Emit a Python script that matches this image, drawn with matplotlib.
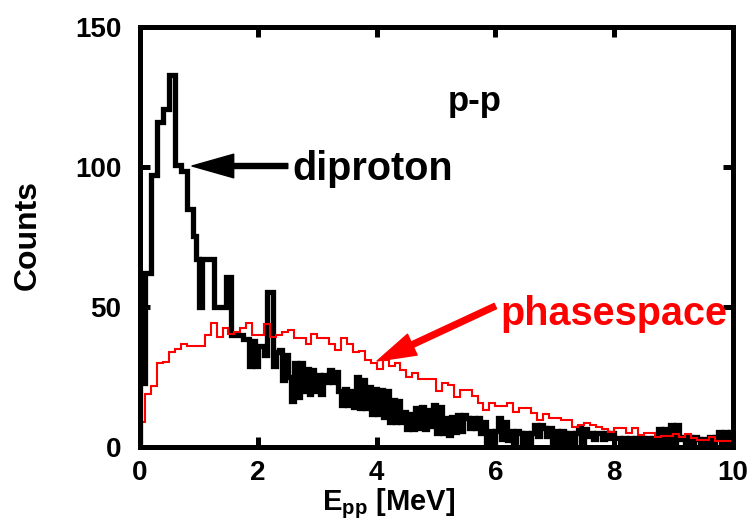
import numpy as np
import matplotlib
matplotlib.use("Agg")
import matplotlib.pyplot as plt

# Measured diproton spectrum, 0.05 MeV bins from 0 to 10 MeV
diproton = [
    23, 23, 62, 62, 97, 97, 116, 116, 120.5, 120.5,
    132.7, 132.7, 100.5, 100.5, 98.5, 98.5, 85, 85, 75.5, 67,
    50, 67, 67, 67, 67, 50, 50, 50, 50, 60.7,
    60.7, 40, 40, 40, 40, 38.5, 38.5, 29, 38, 29,
    36, 36, 33, 55.5, 55.5, 29, 34, 34.7, 24, 33,
    25, 16.5, 30, 18, 30, 20, 28, 19, 27.5, 20,
    26, 19, 26, 23.5, 27.5, 23.5, 27, 20, 15, 21,
    15, 20, 14.5, 25, 14, 24, 14, 21.5, 12, 21,
    12, 20.5, 11, 20, 9, 17, 9, 16.5, 9, 12.5,
    6.5, 12, 6.5, 14, 7, 14.5, 6.5, 13.5, 7.5, 15,
    5, 14.5, 5, 10.5, 4.5, 11, 5.5, 11.5, 6, 11.5,
    10.5, 7, 10.5, 7, 10.4, 5, 9, 1.5, 6, 2,
    6, 10.4, 3, 9, 2.7, 6, 1.5, 6, 5, 1.5,
    5, 1.5, 5, 8, 4, 8, 7, 4, 7, 1.5,
    6, 1.5, 6, 5, 2, 5, 1.5, 5, 7, 2,
    6.5, 4, 5, 3, 5, 5, 3, 5, 3.5, 5,
    3.5, 3.5, 1.5, 3.5, 1.5, 3.5, 1.5, 3.5, 1.5, 3.5,
    1.5, 3.5, 1.5, 3.5, 1.5, 6.5, 2, 6.5, 2, 8,
    2, 8, 3, 3.9, 1.5, 3.9, 1.5, 3.9, 2.9, 1,
    2.9, 1, 3.9, 1.5, 3.9, 5.6, 2, 5.6, 2, 5.6,
]

# Phase-space simulation, 0.1 MeV bins from 0 to 10 MeV
phasespace = [
    9, 19, 22, 30, 30.5, 34, 35, 37, 36, 36,
    36, 40, 44.5, 39.5, 42.5, 40.5, 41, 42.5, 44.5, 40,
    40, 44, 39.5, 40, 41, 42, 39, 39, 37, 40.5,
    39, 39, 37, 34.7, 39, 37, 34, 34.5, 31, 30,
    28, 31, 29, 30, 27.5, 25, 26.5, 24.5, 24.5, 24.5,
    20, 23, 22.3, 18, 20.5, 20.5, 18.5, 16, 13.4, 15.7,
    14.8, 14.8, 15.7, 12.8, 14.2, 14.2, 12.2, 9.8, 11.8, 10.4,
    10.4, 9.8, 9.8, 7.4, 8, 8.8, 8, 7.4, 6.5, 5.5,
    6.8, 6.8, 5, 6.8, 4.5, 5, 5, 3.9, 4.1, 4.1,
    4.8, 3.6, 4.8, 3.3, 2.7, 2.7, 3.9, 2.4, 2.4, 2.4,
]

x_range = (0, 10)
y_range = (0, 150)
x_ticks = [0, 2, 4, 6, 8, 10]
y_ticks = [0, 50, 100, 150]

plt.rcParams["font.family"] = ["Liberation Sans", "DejaVu Sans"]
plt.rcParams["font.weight"] = "bold"
plt.rcParams["mathtext.fontset"] = "custom"
plt.rcParams["mathtext.rm"] = "Liberation Sans:bold"
plt.rcParams["mathtext.bf"] = "Liberation Sans:bold"

fig = plt.figure(figsize=(7.53, 5.24), dpi=100)
ax = fig.add_axes([0.1853, 0.146, 0.7875, 0.8034])

edges_dp = np.linspace(x_range[0], x_range[1], len(diproton) + 1)
edges_ps = np.linspace(x_range[0], x_range[1], len(phasespace) + 1)

ax.stairs(diproton, edges_dp, color="black", linewidth=3.8, zorder=2)
ax.stairs(phasespace, edges_ps, color="#ff0000", linewidth=1.5, zorder=3)

ax.set_xlim(*x_range)
ax.set_ylim(*y_range)
ax.set_xticks(x_ticks)
ax.set_yticks(y_ticks)
ax.set_xticklabels([str(t) for t in x_ticks])
ax.set_yticklabels([str(t) for t in y_ticks])

for s in ax.spines.values():
    s.set_linewidth(3.6)
    s.set_zorder(4)

ax.tick_params(axis="both", which="major", direction="in", length=7.5,
               width=3.6, top=True, right=True, labelsize=20)
ax.tick_params(axis="y", pad=13)
ax.tick_params(axis="x", pad=9)

ax.set_ylabel("Counts", fontsize=23, fontweight="bold")
ax.yaxis.set_label_coords(-0.163, 0.505)
ax.set_xlabel(r"$\mathrm{E}_{\mathrm{pp}}$ [MeV]", fontsize=21,
              fontweight="bold")
ax.xaxis.set_label_coords(0.42, -0.093)

# Labels and pointers
ax.text(5.19, 120, "p-p", fontsize=25, fontweight="bold", color="black",
        ha="left", va="baseline")

ax.text(2.57, 95.3, "diproton", fontsize=28.5, fontweight="bold",
        color="black", ha="left", va="baseline")
ax.annotate("", xy=(0.885, 100.3), xytext=(2.5, 100.3),
            arrowprops=dict(facecolor="black", edgecolor="black",
                            width=3.6, headwidth=17, headlength=30,
                            shrink=0))

ax.text(6.08, 43.6, "phasespace", fontsize=28.5, fontweight="bold",
        color="#ff0000", ha="left", va="baseline")
ax.annotate("", xy=(4.005, 30.8), xytext=(6.0, 50.4),
            arrowprops=dict(facecolor="#ff0000", edgecolor="#ff0000",
                            width=4.2, headwidth=16.5, headlength=28,
                            shrink=0))

fig.savefig("out.png", dpi=100)
